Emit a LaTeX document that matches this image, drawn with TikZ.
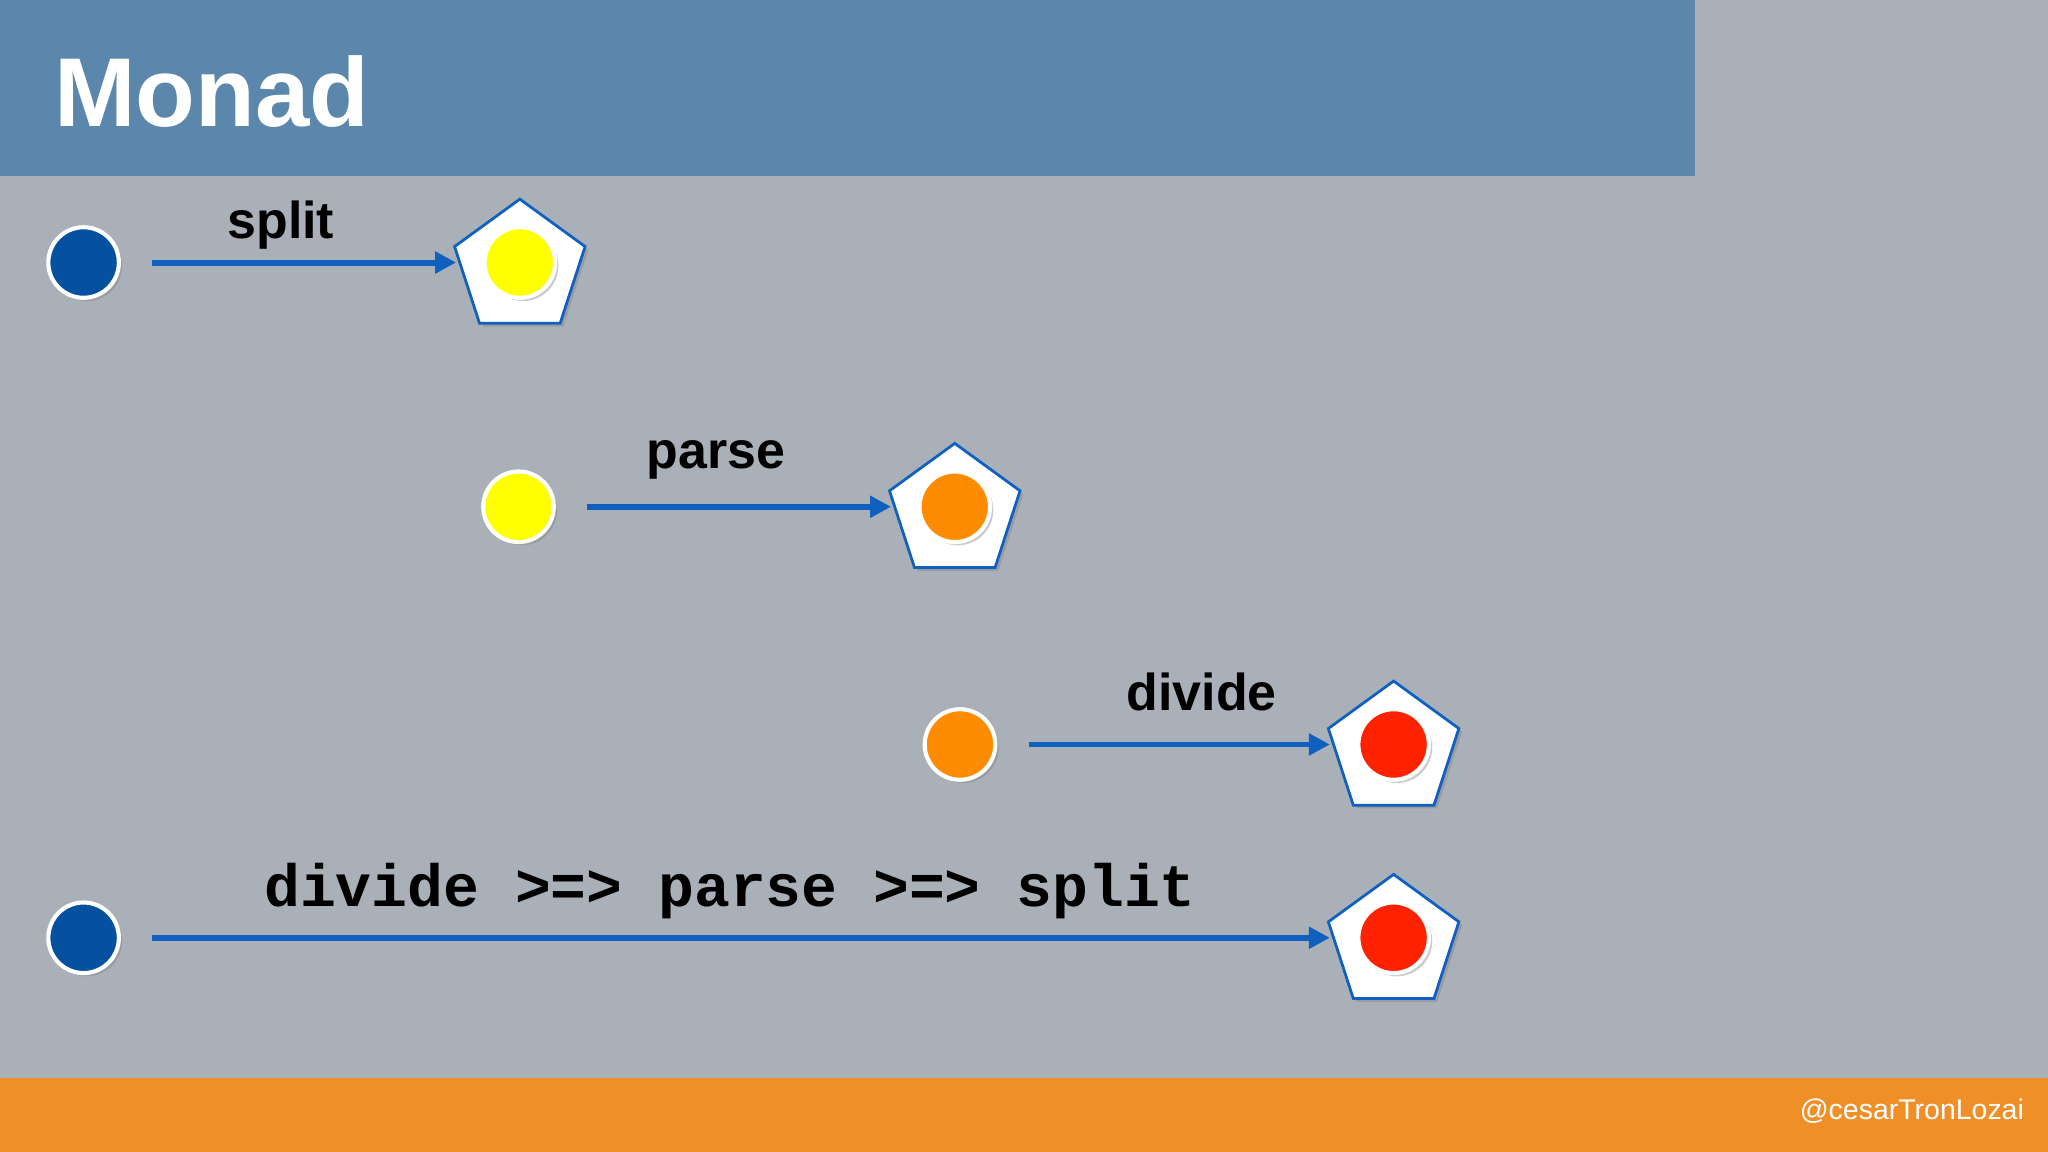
\documentclass[tikz,border=0pt]{standalone}
\usepackage{fontspec}
\setmainfont{Liberation Sans}
\newfontfamily\codefont{Liberation Mono}
\usetikzlibrary{shapes.geometric,arrows.meta,shadows}
\definecolor{bg}{HTML}{A9B0B8}
\definecolor{banner}{HTML}{5B87AC}
\definecolor{obar}{HTML}{EE8F28}
\definecolor{dblue}{HTML}{0650A0}
\definecolor{ablue}{HTML}{1060C0}
\definecolor{yel}{HTML}{FFFF00}
\definecolor{ora}{HTML}{FF8C00}
\definecolor{rd}{HTML}{FF2200}
\tikzset{
 val/.style={circle,draw=white,line width=0.9pt,minimum size=0.54cm,inner sep=0pt,drop shadow={shadow xshift=0.025cm,shadow yshift=-0.025cm,opacity=0.4}},
 box/.style={regular polygon,regular polygon sides=5,minimum size=1.05cm,fill=white,draw=ablue,line width=0.6pt,inner sep=0pt,drop shadow={shadow xshift=0.025cm,shadow yshift=-0.025cm,opacity=0.4}},
 fn/.style={-{Triangle[length=0.16cm,width=0.16cm]},draw=ablue,line width=1.3pt,shorten <=0.24cm,shorten >=0.03cm},
 lab/.style={font=\bfseries\fontsize{11.3}{13}\selectfont,text=black}
}
\begin{document}
\begin{tikzpicture}[x=0.01cm,y=-0.01cm]
\fill[bg] (0,0) rectangle (1568,882);
\fill[banner] (0,0) rectangle (1298,135);
\fill[obar] (0,825) rectangle (1568,882);
\node[anchor=west,text=white,font=\bfseries\fontsize{21.3}{25}\selectfont] (title) at (29,70) {Monad};
\node[anchor=east,text=white,font=\fontsize{6.2}{8}\selectfont] (cred) at (1562,851) {@cesarTronLozai};
% row 1
\node[val,fill=dblue] (a1) at (64,201) {};
\node[box] (p1) at (398,205) {};
\node[val,fill=yel] (c1) at (398,201) {};
\draw[fn] (a1.east) -- (a1.east -| p1.west);
\node[lab] (l1) at (215,172) {split};
% row 2
\node[val,fill=yel] (a2) at (397,388) {};
\node[box] (p2) at (731,392) {};
\node[val,fill=ora] (c2) at (731,388) {};
\draw[fn] (a2.east) -- (a2.east -| p2.west);
\node[lab] (l2) at (548,352) {parse};
% row 3
\node[val,fill=ora] (a3) at (735,570) {};
\node[box] (p3) at (1067,574) {};
\node[val,fill=rd] (c3) at (1067,570) {};
\draw[fn] (a3.east) -- (a3.east -| p3.west);
\node[lab] (l3) at (920,530) {divide};
% row 4
\node[val,fill=dblue] (a4) at (64,718) {};
\node[box] (p4) at (1067,722) {};
\node[val,fill=rd] (c4) at (1067,718) {};
\draw[fn] (a4.east) -- (a4.east -| p4.west);
\node[font=\codefont\bfseries\fontsize{13}{15}\selectfont] (l4) at (559,682) {divide >=> parse >=> split};
\end{tikzpicture}
\end{document}
